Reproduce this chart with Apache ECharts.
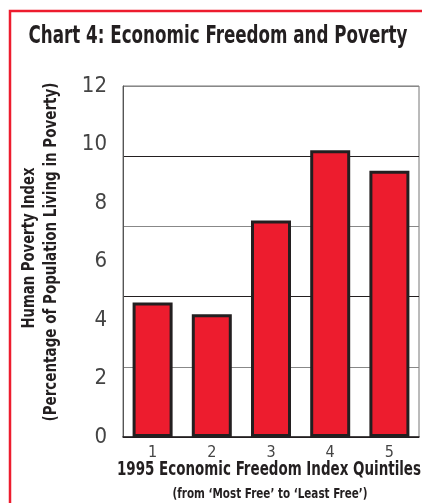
<!DOCTYPE html>
<html>
<head>
<meta charset="utf-8">
<script src="https://cdn.jsdelivr.net/npm/echarts@6/dist/echarts.min.js"></script>
<style>
  html, body { margin: 0; padding: 0; background: #fff; }
  #main { width: 422px; height: 503px; }
</style>
</head>
<body>
<div id="main"></div>
<script>
var quintiles = ["1", "2", "3", "4", "5"];
var povertyIndex = [4.6, 4.2, 7.4, 9.8, 9.1];
var yLabels = [0, 2, 4, 6, 8, 10, 12];

var titleText = "Chart 4: Economic Freedom and Poverty";
var yName1 = "Human Poverty Index";
var yName2 = "(Percentage of Population Living in Poverty)";
var xName = "1995 Economic Freedom Index Quintiles";
var xSub = "(from \u2018Most Free\u2019 to \u2018Least Free\u2019)";

var cond = "'DejaVu Sans Condensed', 'Liberation Sans Narrow', sans-serif";

// no narrow font installed, so squeeze the text horizontally to the reference width
var ctx = document.createElement("canvas").getContext("2d");
function squeeze(text, font, width) {
  ctx.font = font;
  return width / ctx.measureText(text).width;
}

function label(text, size, x, y, width, rot) {
  var font = "bold " + size + "px " + cond;
  return {
    type: "text",
    x: x,
    y: y,
    rotation: rot || 0,
    scaleX: squeeze(text, font, width),
    silent: true,
    style: {
      text: text,
      font: font,
      fill: "#231f20",
      align: "center",
      verticalAlign: "middle"
    }
  };
}

var chart = echarts.init(document.getElementById("main"));

var option = {
  backgroundColor: "#fff",
  animation: false,
  graphic: [
    {
      type: "rect",
      shape: { x: 10, y: 11, width: 430, height: 520 },
      style: { fill: "none", stroke: "#ed1c2e", lineWidth: 2.5 },
      silent: true
    },
    label(titleText, 25, 218, 36, 379),
    label(yName1, 17, 30, 248, 161, Math.PI / 2),
    label(yName2, 17, 52, 252, 339, Math.PI / 2),
    label(xName, 20, 269, 470, 304),
    label(xSub, 14, 270, 494, 195)
  ],
  grid: {
    left: 123,
    top: 86,
    right: 3,
    bottom: 66,
    outerBoundsMode: "none",
    show: true,
    borderColor: "#777",
    borderWidth: 1
  },
  xAxis: {
    type: "category",
    data: quintiles,
    axisTick: { show: false },
    axisLine: { lineStyle: { color: "#231f20", width: 1.5 } },
    axisLabel: {
      margin: 8,
      fontFamily: cond,
      fontSize: 16,
      color: "#444"
    }
  },
  yAxis: [
    {
      type: "value",
      min: yLabels[0],
      max: yLabels[yLabels.length - 1],
      interval: 2,
      axisLine: { show: true, lineStyle: { color: "#555", width: 1 } },
      axisTick: { show: false },
      splitLine: { show: false },
      axisLabel: {
        margin: 16,
        fontFamily: cond,
        fontSize: 22,
        color: "#444"
      }
    },
    {
      type: "value",
      position: "left",
      min: 0,
      max: 12,
      interval: 2.4,
      axisLine: { show: false },
      axisTick: { show: false },
      axisLabel: { show: false },
      splitLine: {
        show: true,
        lineStyle: { color: ["#231f20", "#888"], width: 1 }
      }
    }
  ],
  series: [
    {
      type: "bar",
      data: povertyIndex,
      barWidth: 40,
      itemStyle: {
        color: "#ed1c2e",
        borderColor: "#231f20",
        borderWidth: 3
      }
    }
  ]
};

chart.setOption(option);
</script>
</body>
</html>
